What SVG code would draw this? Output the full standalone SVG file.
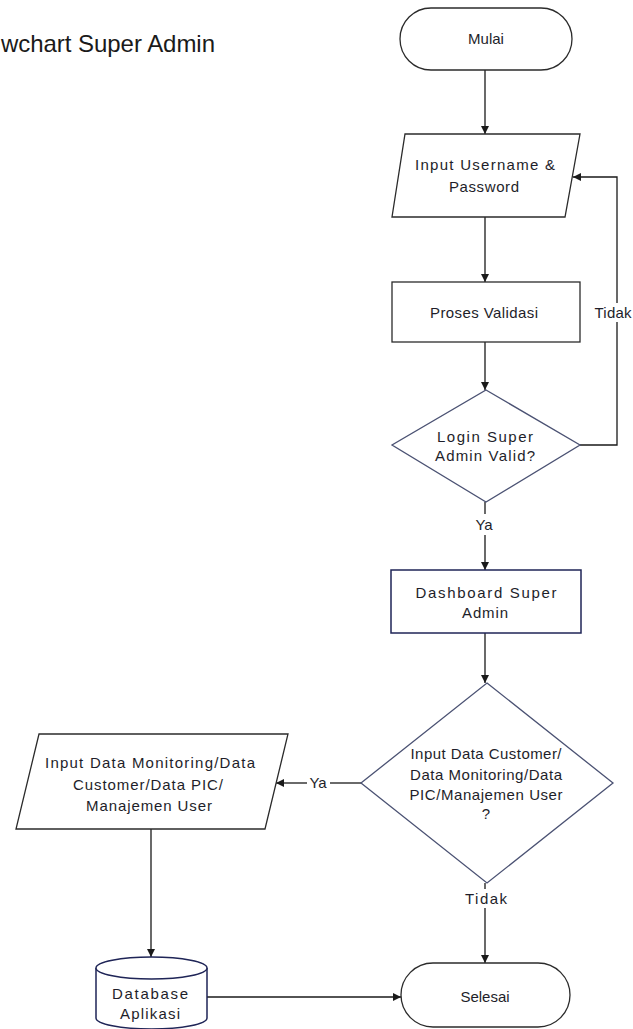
<svg xmlns="http://www.w3.org/2000/svg" width="633" height="1029" viewBox="0 0 633 1029">
<style>
text{font-family:"Liberation Sans",Arial,sans-serif;fill:#1e1e2a;text-anchor:middle;font-size:15px}
.title{font-size:24px;text-anchor:start;fill:#1a1a1a}
.node{fill:#fff;stroke:#2b2b2b;stroke-width:1.3}
.dia{fill:#fff;stroke:#4b5273;stroke-width:1.3}
.navy{fill:#fff;stroke:#1f2557;stroke-width:1.5}
.conn{fill:none;stroke:#1a1a1a;stroke-width:1.3}
</style>
<defs>
<marker id="arr" viewBox="0 0 10 10" refX="10" refY="5" markerWidth="8" markerHeight="8" markerUnits="userSpaceOnUse" orient="auto">
<path d="M0,0 L10,5 L0,10 z" fill="#1a1a1a"/>
</marker>
</defs>
<rect width="633" height="1029" fill="#fff"/>
<text class="title" x="1" y="52" textLength="214" lengthAdjust="spacing">wchart Super Admin</text>

<g id="connectors">
<path class="conn" d="M485,70 V134" marker-end="url(#arr)"/>
<path class="conn" d="M485,217 V282" marker-end="url(#arr)"/>
<path class="conn" d="M485,342 V390" marker-end="url(#arr)"/>
<path class="conn" d="M580,445 H617 V322"/>
<path class="conn" d="M617,303 V177 H573" marker-end="url(#arr)"/>
<path class="conn" d="M485,502 V514"/>
<path class="conn" d="M485,535 V570" marker-end="url(#arr)"/>
<path class="conn" d="M485,633 V683" marker-end="url(#arr)"/>
<path class="conn" d="M361,783 H330"/>
<path class="conn" d="M307,783 H276" marker-end="url(#arr)"/>
<path class="conn" d="M485,883 V889"/>
<path class="conn" d="M485,908 V963" marker-end="url(#arr)"/>
<path class="conn" d="M151,829 V957" marker-end="url(#arr)"/>
<path class="conn" d="M207,997 H401" marker-end="url(#arr)"/>
<text x="613" y="318" textLength="37" lengthAdjust="spacing">Tidak</text>
<text x="484" y="530">Ya</text>
<text x="318" y="788">Ya</text>
<text x="486" y="904" textLength="42" lengthAdjust="spacing">Tidak</text>
</g>

<g id="mulai">
<rect class="node" x="400" y="8" width="172" height="62" rx="31"/>
<text x="486" y="44">Mulai</text>
</g>

<g id="input-login">
<polygon class="node" points="405,134 580,134 565,217 392,217"/>
<text x="485" y="170" textLength="140" lengthAdjust="spacing">Input Username &amp;</text>
<text x="484" y="192" textLength="70" lengthAdjust="spacing">Password</text>
</g>

<g id="proses-validasi">
<rect class="node" x="392" y="282" width="188" height="60"/>
<text x="484" y="318" textLength="108" lengthAdjust="spacing">Proses Validasi</text>
</g>

<g id="login-valid">
<polygon class="dia" points="486,390 580,445 486,502 392,445"/>
<text x="485" y="442" font-size="17" textLength="96" lengthAdjust="spacing">Login Super</text>
<text x="485" y="461" font-size="17" textLength="100" lengthAdjust="spacing">Admin Valid?</text>
</g>

<g id="dashboard">
<rect class="navy" x="391" y="570" width="190" height="63"/>
<text x="486" y="598" font-size="17" textLength="141" lengthAdjust="spacing">Dashboard Super</text>
<text x="485" y="618" font-size="17" textLength="46" lengthAdjust="spacing">Admin</text>
</g>

<g id="input-data-decision">
<polygon class="dia" points="487,683 613,783 487,883 361,783"/>
<text x="486" y="759" textLength="151" lengthAdjust="spacing">Input Data Customer/</text>
<text x="486" y="780" textLength="152" lengthAdjust="spacing">Data Monitoring/Data</text>
<text x="486" y="800" textLength="153" lengthAdjust="spacing">PIC/Manajemen User</text>
<text x="486" y="819">?</text>
</g>

<g id="input-data">
<polygon class="node" points="39,734 288,734 265,829 16,829"/>
<text x="150" y="768" textLength="210" lengthAdjust="spacing">Input Data Monitoring/Data</text>
<text x="148" y="790" textLength="150" lengthAdjust="spacing">Customer/Data PIC/</text>
<text x="149" y="811" textLength="126" lengthAdjust="spacing">Manajemen User</text>
</g>

<g id="database">
<path class="navy" d="M96,968 A55.5,11 0 0 1 207,968 V1018 A55.5,11 0 0 1 96,1018 Z"/>
<path class="navy" fill="none" d="M96,968 A55.5,11 0 0 0 207,968"/>
<text x="150" y="999" textLength="76" lengthAdjust="spacing">Database</text>
<text x="150" y="1019" textLength="60" lengthAdjust="spacing">Aplikasi</text>
</g>

<g id="selesai">
<rect class="node" x="401" y="963" width="169" height="64" rx="32"/>
<text x="485" y="1002">Selesai</text>
</g>
</svg>
